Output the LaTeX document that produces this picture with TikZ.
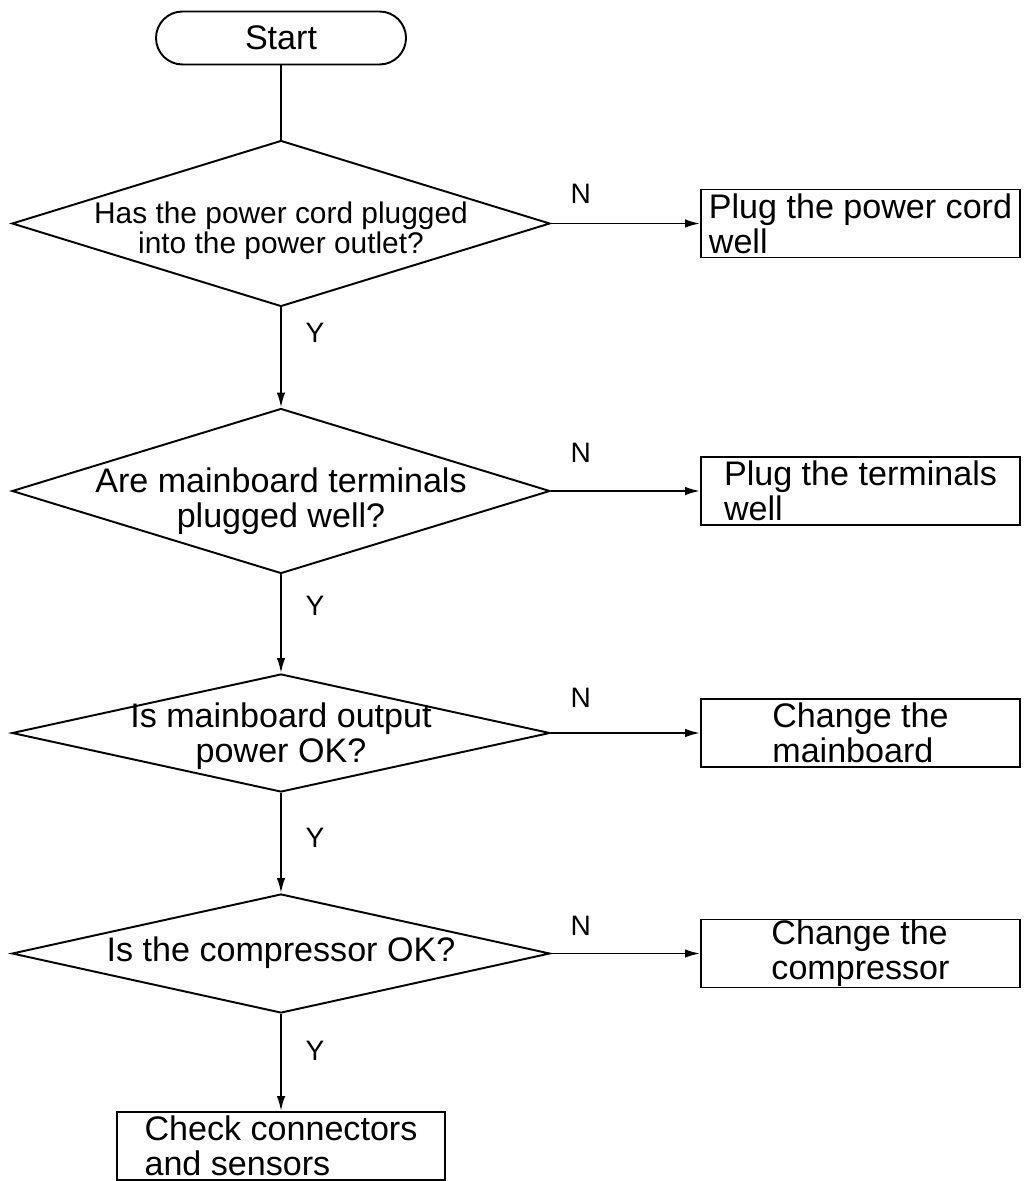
\documentclass[tikz,border=0pt]{standalone}
\usepackage{fontspec}
\setmainfont{Liberation Sans}
\usetikzlibrary{shapes.geometric,arrows.meta}

\begin{document}
\begin{tikzpicture}[->, >={Latex[length=3mm,width=1.7mm]}, line width=1.1pt,
    txt/.style={font=\fontsize{19.4}{19.9}\selectfont},
    terminal/.style={draw, txt, rounded corners=0.53cm, minimum width=5cm, minimum height=1.06cm},
    decision/.style={draw, diamond, minimum width=10.76cm, minimum height=#1, inner sep=0pt},
    question/.style={txt, align=center},
    action/.style={draw, txt, align=left, minimum height=1.36cm, inner sep=0pt},
    yn/.style={font=\fontsize{16}{16}\selectfont}]
      \useasboundingbox (0,0) rectangle (20.48,-23.62);

      \node[terminal] (start) at (5.62,-0.76) {Start};

      \node[decision=3.32cm] (q1) at (5.62,-4.47) {};
      \node[question, font=\fontsize{17}{17}\selectfont] at (5.62,-4.62) {Has the power cord plugged\\into the power outlet?};
      \node[decision=3.3cm] (q2) at (5.62,-9.82) {};
      \node[question] at (5.62,-10.02) {Are mainboard terminals\\plugged well?};
      \node[decision=2.36cm] (q3) at (5.62,-14.66) {};
      \node[question] at (5.62,-14.72) {Is mainboard output\\power OK?};
      \node[decision=2.38cm] (q4) at (5.62,-19.07) {};
      \node[question] at (5.62,-19.05) {Is the compressor OK?};

      \node[action, minimum width=6.38cm] (a1) at (17.21,-4.47) {Plug the power cord\\well};
      \node[action, minimum width=6.38cm] (a2) at (17.21,-9.82) {Plug the terminals\\well};
      \node[action, minimum width=6.38cm] (a3) at (17.21,-14.66) {Change the\\mainboard};
      \node[action, minimum width=6.38cm] (a4) at (17.21,-19.07) {Change the\\compressor};
      \node[action, minimum width=6.56cm] (a5) at (5.62,-22.92) {Check connectors\\and sensors};

      \draw[-] (start) -- (q1);
      \draw (q1) -- node[yn, pos=0.25, xshift=0.68cm] {Y} (q2);
      \draw (q2) -- node[yn, pos=0.32, xshift=0.68cm] {Y} (q3);
      \draw (q3) -- node[yn, pos=0.45, xshift=0.68cm] {Y} (q4);
      \draw (q4) -- node[yn, pos=0.38, xshift=0.68cm] {Y} (a5);

      \draw (q1) -- node[yn, pos=0.2, yshift=0.6cm] {N} (a1);
      \draw (q2) -- node[yn, pos=0.2, yshift=0.76cm] {N} (a2);
      \draw (q3) -- node[yn, pos=0.2, yshift=0.7cm] {N} (a3);
      \draw (q4) -- node[yn, pos=0.2, yshift=0.56cm] {N} (a4);
    \end{tikzpicture}
\end{document}
